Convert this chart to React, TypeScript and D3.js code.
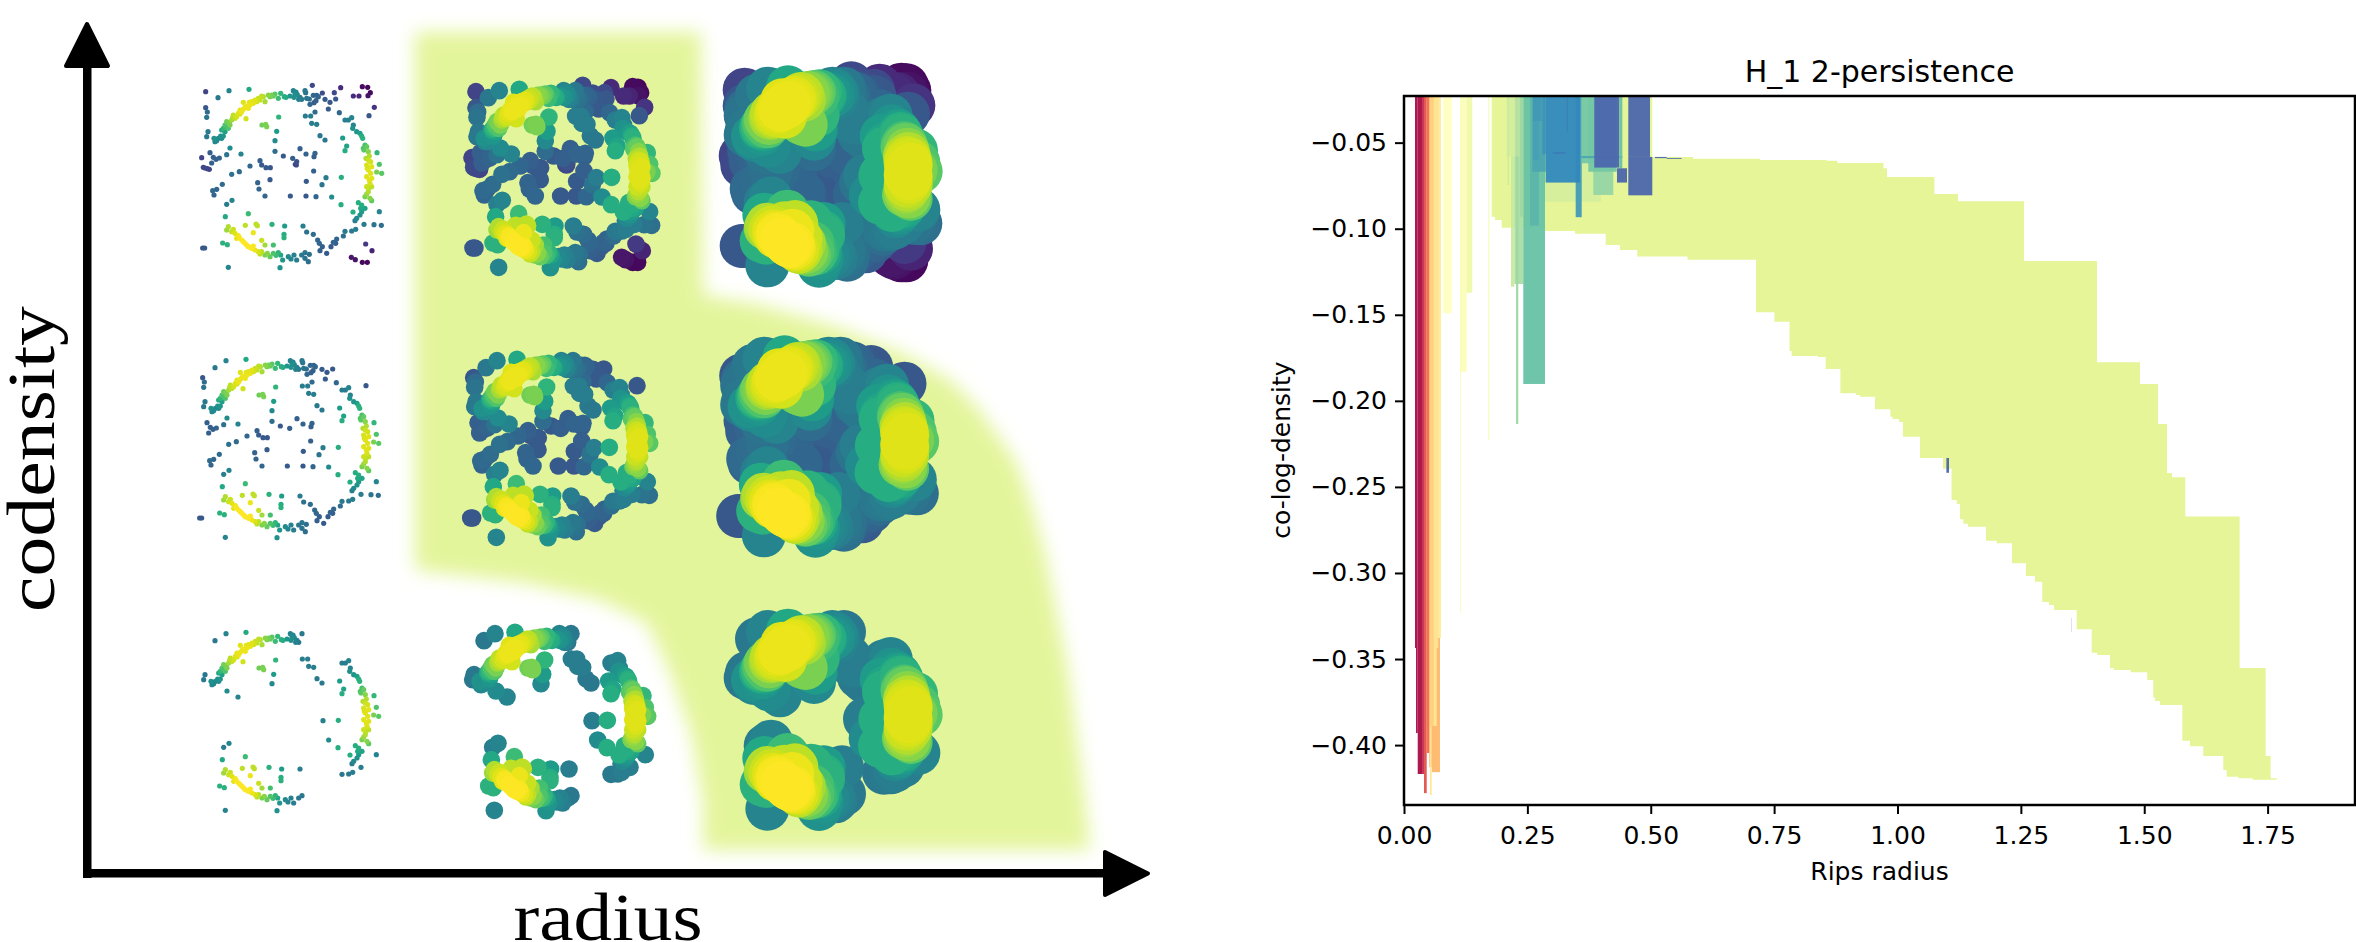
import { useEffect, useRef } from 'react';
import * as d3 from 'd3';

type Sample = [number, number, number];

// Point cloud: x, y, density (0..1 on viridis)
const noiseSamples: Sample[] = [
  [517,50,.03],[533,52,.02],[541,68,.03],[534,77,.05],[507,78,.1],[490,78,.12],[452,53,.12],[553,112,.15],
  [484,562,.06],[496,569,.05],[517,577,.02],[532,577,.02],[546,542,.1],[527,522,.17],[367,46,.22],[47,65,.2],
  [433,68,.22],[397,69,.23],[47,113,.27],[415,117,.28],[537,137,.27],[448,128,.33],[84,83,.4],[117,62,.45],
  [177,58,.6],[52,126,.35],[50,142,.38],[54,185,.4],[50,200,.4],[216,165,.78],[227,163,.8],[230,170,.8],
  [266,141,.65],[260,184,.55],[255,212,.47],[255,244,.35],[120,234,.48],[153,252,.45],[110,254,.38],[60,248,.3],
  [35,263,.2],[70,262,.3],[78,268,.3],[88,264,.32],[65,279,.3],[40,292,.22],[45,294,.22],[52,296,.2],
  [58,298,.2],[180,288,.33],[210,272,.3],[215,285,.28],[228,293,.28],[241,293,.27],[280,258,.28],[308,265,.3],
  [320,275,.25],[316,283,.22],[319,285,.22],[330,236,.3],[348,252,.32],[375,250,.32],[372,260,.3],[148,305,.34],
  [125,313,.37],[371,303,.3],[240,329,.28],[349,334,.28],[408,323,.42],[454,322,.62],[396,344,.38],[203,338,.32],
  [207,357,.32],[97,343,.35],[80,358,.33],[68,362,.34],[72,375,.32],[225,378,.33],[301,378,.28],[348,378,.27],
  [378,380,.33],[425,381,.48],[126,391,.45],[110,403,.42],[453,404,.62],[568,425,.45],[175,431,.68],[106,440,.6],
  [489,426,.62],[522,463,.42],[552,464,.38],[574,466,.36],[166,466,.9],[198,462,.9],[202,467,.9],[246,463,.64],
  [284,468,.55],[339,468,.42],[350,486,.37],[370,493,.35],[282,493,.62],[282,503,.64],[190,488,.97],[215,511,.92],
  [98,519,.64],[112,524,.64],[38,534,.27],[44,534,.27],[115,592,.45],[270,593,.5],[458,204,.55],[470,228,.58],
  [465,242,.62],[561,248,.66],[568,283,.72],[575,310,.74],[560,306,.8],
];

const topBandSamples: Sample[] = [
  [310,62,.45],[315,72,.48],[312,82,.5],[322,74,.47],[330,82,.42],[335,88,.4],[345,62,.4],[347,68,.38],
  [350,85,.38],[358,87,.36],[370,76,.33],[380,76,.32],[385,80,.32],[378,92,.3],[360,103,.33],[372,98,.3],
  [405,88,.28],[420,97,.27],[437,87,.27],[375,126,.34],[346,138,.42],[362,138,.42],[365,160,.42],[380,163,.42],
  [390,197,.4],[405,210,.4],[300,78,.52],[318,66,.46],[326,88,.44],
];

const topArcSamples: Sample[] = [
  [288,82,.6],[283,80,.62],[272,70,.66],[265,85,.68],[255,72,.74],[245,75,.78],[235,75,.82],[225,95,.87],
  [220,80,.88],[215,78,.9],[205,85,.92],[195,90,.95],[185,95,.96],[178,97,.96],[175,115,.97],[180,105,.97],
  [160,97,.95],[168,146,.93],[150,120,.96],[155,125,.97],[145,130,.95],[140,140,.93],[130,135,.9],[125,150,.86],
  [120,165,.8],[110,155,.78],[105,165,.72],[115,175,.72],[100,175,.66],[95,180,.6],[105,185,.56],[100,198,.52],
  [95,205,.48],[85,205,.47],[75,215,.46],[72,205,.5],[190,100,.96],[170,108,.97],[160,118,.97],[135,145,.9],
  [150,132,.94],[165,112,.96],[128,142,.88],[200,95,.93],[210,90,.91],[240,80,.8],[250,78,.76],[118,158,.8],
  [108,172,.68],[92,198,.5],[80,212,.47],
];

const rightArcSamples: Sample[] = [
  [465,150,.42],[475,150,.42],[485,143,.45],[490,165,.45],[488,175,.5],[500,185,.52],[510,190,.56],[515,198,.62],
  [518,205,.64],[525,225,.7],[520,235,.72],[530,230,.76],[535,245,.82],[528,265,.88],[535,270,.92],[542,275,.93],
  [530,285,.94],[545,290,.95],[535,300,.95],[542,310,.95],[530,320,.95],[545,325,.95],[540,340,.94],[530,350,.92],
  [545,350,.9],[535,365,.88],[525,380,.8],[540,385,.82],[545,392,.75],[505,398,.62],[515,405,.62],[525,415,.58],
  [515,425,.54],[510,435,.5],[500,445,.47],[495,452,.42],[497,478,.42],[485,483,.41],[465,484,.4],[460,498,.35],
  [440,507,.32],[430,517,.32],[437,520,.3],[423,530,.28],[410,550,.28],[390,542,.3],[397,530,.3],[388,520,.33],
  [383,510,.33],[538,258,.88],[532,295,.94],[538,330,.95],[536,355,.9],[530,372,.84],[522,240,.74],[512,415,.6],
];

const bottomArcSamples: Sample[] = [
  [115,470,.88],[110,480,.85],[125,485,.92],[135,490,.95],[145,497,.98],[155,510,.99],[165,520,1],[175,530,1],
  [185,535,.99],[195,540,.97],[205,545,.94],[215,545,.9],[225,525,.86],[250,525,.7],[225,555,.8],[240,560,.76],
  [250,550,.72],[265,548,.65],[272,555,.58],[278,570,.52],[295,560,.47],[303,567,.45],[312,555,.44],[320,570,.42],
  [335,555,.4],[345,548,.4],[345,565,.38],[355,575,.36],[358,553,.37],[160,515,1],[170,525,1],[148,503,.99],
  [180,532,1],[190,528,.99],[130,478,.92],[140,505,.96],[210,552,.9],[232,550,.82],[258,556,.68],
];

// Which samples survive in each row (density cut) and dot radius per column
const rowCuts = [0, 0.26, 0.395];
const columnRadii = [2.6, 8.8, 22];
const panelOriginX = [[190, 460.3, 729], [187, 458, 725.5], [187, 456, 729]];
const panelOriginY = [[70, 70, 68], [340, 340, 338], [613, 613, 611.3]];

// Filled region behind the panels, in page pixels
const regionOutline: [number, number][] = [
  [415,32],[701,32],[703,295],[760,305],[830,325],[902,353],[950,380],[977,407],[1015,460],[1030,500],[1045,553],
  [1068,670],[1085,800],[1090,850],[703,850],[703,803],[692,737],[669,670],[647,623],[600,600],[526,583],[415,570],
];

// Persistence chart: outline of the big module, step-after
const moduleX = [
  .1777,.5025,.5856,.7214,.8563,.8782,.9716,.9787,1.0748,1.1226,1.2563,1.4043,1.4914,1.5279,1.5461,1.5562,1.5832,1.6934,1.7461,1.7562,
  1.7684,1.7198,1.6906,1.6671,1.6602,1.6196,1.5927,1.5771,1.5319,1.5218,1.5183,1.5062,1.4726,1.4387,1.4306,1.4049,1.3935,1.3631,1.3171,1.3070,
  1.2934,1.2786,1.2604,1.2320,1.2010,1.1793,1.1429,1.1334,1.1266,1.1202,1.1096,1.0922,1.0456,1.0111,1.0030,.9899,.9856,.9544,.9240,.9159,
  .8843,.8545,.8389,.7856,.7812,.7506,.7133,.5745,.4727,.4377,.4087,.3465,.2857,.1980,.1844,.1777,
];
const moduleY = [
  -.02,-.0583,-.0593,-.0601,-.0605,-.0618,-.0649,-.0699,-.0798,-.0841,-.1187,-.1776,-.1902,-.2135,-.2419,-.2444,-.2672,-.3552,-.4064,-.4193,
  -.4201,-.4193,-.4184,-.4145,-.4064,-.4006,-.3975,-.3767,-.3744,-.3723,-.3622,-.3577,-.3564,-.3554,-.3477,-.3464,-.3327,-.3215,-.3186,-.3169,
  -.3051,-.3018,-.2944,-.2828,-.2813,-.2731,-.2714,-.2688,-.2600,-.2576,-.2394,-.2332,-.2208,-.2123,-.2105,-.2092,-.2049,-.1976,-.1966,-.1956,
  -.1815,-.1745,-.1740,-.1710,-.1540,-.1486,-.1180,-.1162,-.1123,-.1094,-.1029,-.1013,-.0994,-.0949,-.0930,-.02,
];
const moduleLevel = 0.6;

// Smaller modules, drawn in this order: radius from/to, density from/to, colour level
const barX0 = [
  .0796,.1135,.1135,.1270,.1708,.2857,.3836,.2235,.2168,.2270,.2417,.2081,.2101,.2249,.2351,.2553,.2600,.2614,.2802,.2614,
  .3479,.3601,.3735,.4985,.2871,.3297,.3019,.3566,.3856,.4363,.4316,.4545,.4545,.5086,.5323,1.0991,1.3516,
  .0223,.0243,.0278,.0365,.0405,.0460,.0513,.0567,.0527,.0594,.0663,.0628,.0527,
];
const barX1 = [
  .0967,.1149,.1270,.1384,.1729,.3992,.4241,.2417,.2235,.2316,.2857,.2249,.2125,.2351,.2417,.2736,.2871,.2736,.2871,.2790,
  .3601,.3856,.4310,.5031,.3566,.3317,.3283,.4424,.4363,.4424,.4519,.4985,.5031,.5323,.5627,1.1044,1.3520,
  .0243,.0278,.0365,.0405,.0460,.0513,.0567,.0729,.0561,.0663,.0750,.0695,.0594,
];
const barTop = [
  -.02,-.02,-.02,-.02,-.02,-.02,-.02,-.02,-.02,-.02,-.02,-.02,-.02,-.02,-.02,-.02,-.02,-.02,-.02,-.02,
  -.02,-.02,-.02,-.02,-.02,-.02,-.0555,-.0578,-.02,-.02,-.0649,-.02,-.0583,-.0583,-.0589,-.2332,-.3262,
  -.02,-.02,-.02,-.02,-.02,-.02,-.02,-.02,-.02,-.02,-.02,-.02,-.02,
];
const barBottom = [
  -.1491,-.3233,-.1831,-.1372,-.2228,-.0843,-.0804,-.1321,-.1337,-.2135,-.1902,-.0581,-.0746,-.0581,-.0930,-.0982,-.0669,-.0601,-.0567,-.0374,
  -.0933,-.0620,-.0669,-.0583,-.0732,-.0436,-.0565,-.0590,-.0645,-.0649,-.0732,-.0583,-.0806,-.0590,-.0594,-.2418,-.3343,
  -.3436,-.3930,-.4168,-.4168,-.4279,-.4046,-.4128,-.4157,-.4290,-.3889,-.3378,-.3436,-.3889,
];
const barLevel = [
  .5,.47,.52,.56,.55,.63,.73,.7,.65,.72,.8,.63,.66,.68,.72,.82,.85,.86,.88,.87,
  .87,.78,.78,.6,.9,.92,.92,.85,.96,.8,.96,.96,.96,.96,.96,.96,.96,
  .02,.02,.02,.07,.14,.2,.3,.32,.42,.42,.44,.41,.37,
];

const xTicks = [0, .25, .5, .75, 1, 1.25, 1.5, 1.75];
const yTicks = [-.05, -.1, -.15, -.2, -.25, -.3, -.35, -.4];

const spectralStops = ['#9e0142','#d53e4f','#f46d43','#fdae61','#fee08b','#ffffbf','#e6f598','#abdda4','#66c2a5','#3288bd','#5e4fa2'];

const SERIF = '"Liberation Serif", serif';
const SANS = '"DejaVu Sans", sans-serif';

export default function App() {
  const svgRef = useRef<SVGSVGElement>(null);

  useEffect(() => {
    const svg = d3.select(svgRef.current);
    svg.selectAll('*').remove();

    const defs = svg.append('defs');
    defs.append('filter').attr('id', 'soft')
      .attr('x', '-10%').attr('y', '-10%').attr('width', '120%').attr('height', '120%')
      .append('feGaussianBlur').attr('stdDeviation', 9);
    defs.append('clipPath').attr('id', 'plot-area')
      .append('rect').attr('x', 1404).attr('y', 96).attr('width', 951).attr('height', 709);

    // Left figure
    svg.append('path')
      .attr('d', d3.line()(regionOutline))
      .attr('fill', '#e3f59b')
      .attr('filter', 'url(#soft)');

    const allSamples = [...noiseSamples, ...topBandSamples, ...topArcSamples, ...rightArcSamples, ...bottomArcSamples]
      .sort((a, b) => a[2] - b[2]);
    const sampleScale = d3.scaleLinear().domain([0, 600]).range([0, 200]);

    rowCuts.forEach((cut, row) => {
      columnRadii.forEach((radius, col) => {
        svg.append('g')
          .attr('transform', `translate(${panelOriginX[row][col]},${panelOriginY[row][col]})`)
          .selectAll('circle')
          .data(allSamples.filter((d) => d[2] >= cut))
          .join('circle')
          .attr('cx', (d) => sampleScale(d[0]))
          .attr('cy', (d) => sampleScale(d[1]))
          .attr('r', radius)
          .attr('fill', (d) => d3.interpolateViridis(d[2]));
      });
    });

    // Arrows
    svg.append('rect').attr('x', 83).attr('y', 60).attr('width', 8.5).attr('height', 818).attr('fill', '#000');
    svg.append('rect').attr('x', 83).attr('y', 869).attr('width', 1030).attr('height', 8.5).attr('fill', '#000');
    svg.append('path')
      .attr('d', d3.line()([[87, 24], [108, 66], [66, 66]]) + 'Z')
      .attr('fill', '#000').attr('stroke', '#000').attr('stroke-width', 4).attr('stroke-linejoin', 'round');
    svg.append('path')
      .attr('d', d3.line()([[1148, 873.5], [1105, 852], [1105, 895]]) + 'Z')
      .attr('fill', '#000').attr('stroke', '#000').attr('stroke-width', 4).attr('stroke-linejoin', 'round');

    svg.append('text')
      .attr('transform', 'translate(54,459) rotate(-90)')
      .attr('text-anchor', 'middle')
      .attr('font-family', SERIF).attr('font-size', 68)
      .attr('textLength', 306).attr('lengthAdjust', 'spacingAndGlyphs')
      .text('codensity');
    svg.append('text')
      .attr('x', 608).attr('y', 940)
      .attr('text-anchor', 'middle')
      .attr('font-family', SERIF).attr('font-size', 68)
      .attr('textLength', 189).attr('lengthAdjust', 'spacingAndGlyphs')
      .text('radius');

    // Right chart
    const x = d3.scaleLinear().domain([0, 1.9271]).range([1404, 2355]);
    const y = d3.scaleLinear().domain([-.4348, -.0229]).range([805, 96]);
    const spectral = d3.scaleLinear<string>()
      .domain(spectralStops.map((_, i) => i / 10))
      .range(spectralStops);

    const plot = svg.append('g').attr('clip-path', 'url(#plot-area)');

    const moduleLine = d3.line<number>()
      .x((d) => x(moduleX[d]))
      .y((d) => y(moduleY[d]))
      .curve(d3.curveStepAfter);
    plot.append('path')
      .attr('d', moduleLine(d3.range(moduleX.length)) + 'Z')
      .attr('fill', spectral(moduleLevel));

    plot.selectAll('rect.bar')
      .data(d3.range(barX0.length))
      .join('rect')
      .attr('class', 'bar')
      .attr('x', (i) => x(barX0[i]))
      .attr('y', (i) => y(barTop[i]))
      .attr('width', (i) => x(barX1[i]) - x(barX0[i]))
      .attr('height', (i) => y(barBottom[i]) - y(barTop[i]))
      .attr('fill', (i) => spectral(barLevel[i]))
      .attr('fill-opacity', 0.95);

    const xAxis = svg.append('g')
      .attr('transform', 'translate(0,805)')
      .call(d3.axisBottom(x).tickValues(xTicks).tickFormat(d3.format('.2f')).tickSize(9).tickPadding(12));
    const yAxis = svg.append('g')
      .attr('transform', 'translate(1404,0)')
      .call(d3.axisLeft(y).tickValues(yTicks).tickFormat(d3.format('.2f')).tickSize(9).tickPadding(8));
    [xAxis, yAxis].forEach((axis) => {
      axis.select('.domain').remove();
      axis.selectAll('line').attr('stroke', '#000').attr('stroke-width', 2);
      axis.selectAll('text').attr('font-family', SANS).attr('font-size', 25).attr('fill', '#000');
    });

    svg.append('rect')
      .attr('x', 1404).attr('y', 96).attr('width', 951).attr('height', 709)
      .attr('fill', 'none').attr('stroke', '#000').attr('stroke-width', 2.5);

    svg.append('text')
      .attr('x', 1879.5).attr('y', 82)
      .attr('text-anchor', 'middle')
      .attr('font-family', SANS).attr('font-size', 30)
      .text('H_1 2-persistence');
    svg.append('text')
      .attr('x', 1879.5).attr('y', 880)
      .attr('text-anchor', 'middle')
      .attr('font-family', SANS).attr('font-size', 25)
      .text('Rips radius');
    svg.append('text')
      .attr('transform', 'translate(1290,450) rotate(-90)')
      .attr('text-anchor', 'middle')
      .attr('font-family', SANS).attr('font-size', 25)
      .text('co-log-density');
  }, []);

  return (
    <svg
      ref={svgRef}
      width={2356}
      height={942}
      style={{ position: 'absolute', left: 0, top: 0, display: 'block', background: '#fff' }}
    />
  );
}
